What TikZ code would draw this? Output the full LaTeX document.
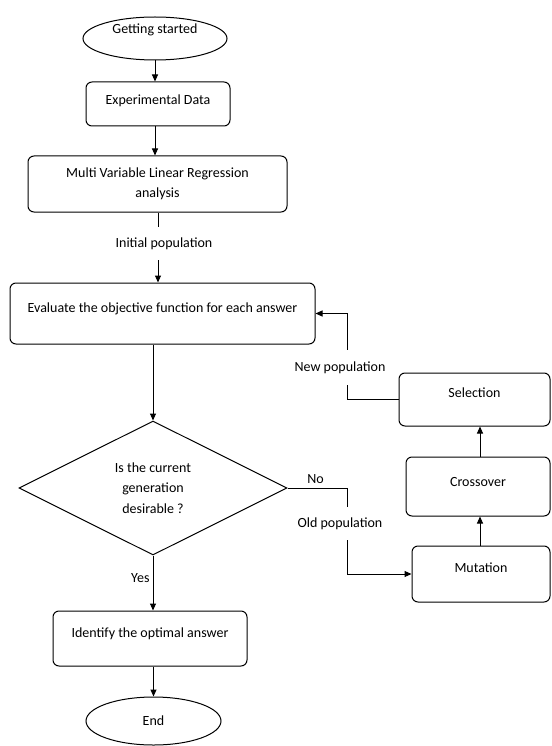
\documentclass[tikz,border=0pt]{standalone}
\usepackage{fontspec}
\setmainfont{Carlito}
\usetikzlibrary{shapes.geometric,arrows.meta,calc}
\begin{document}
\begin{tikzpicture}[x=1pt,y=-1pt,
  every node/.style={font=\fontsize{14}{20.5}\selectfont, inner sep=0pt},
  box/.style={draw, rounded corners=6pt, line width=1pt},
  term/.style={draw, ellipse, line width=1pt},
  up/.style={text height=10pt, text depth=#1},
  conn/.style={line width=1pt},
  arr/.style={conn, -{Triangle[length=7pt,width=6pt]}}]
\useasboundingbox (0,0) rectangle (551,746);

% column helpers
\coordinate (xa) at (158,0);
\coordinate (xb) at (347,0);
\coordinate (xc) at (480,0);

% nodes
\node[term, minimum width=144pt, minimum height=43pt, up=20pt] (start) at (155,38.5) {Getting started};
\node[box, minimum width=144pt, minimum height=44pt, up=9pt] (exp) at (158,104) {Experimental Data};
\node[box, minimum width=259pt, minimum height=56pt, align=center] (mvlr) at (157.5,184) {Multi Variable Linear Regression\\analysis};
\node[minimum height=33pt] (init) at (164,243.5) {Initial population};
\node[box, minimum width=305pt, minimum height=61pt, up=12pt] (eval) at (162.5,313.5) {Evaluate the objective function for each answer};
\node[draw, diamond, aspect=2, line width=1pt, minimum width=268pt, minimum height=134pt, align=center] (dec) at (153,488) {Is the current\\generation\\desirable ?};
\node[box, minimum width=194pt, minimum height=55pt, up=12pt] (ident) at (150,638.5) {Identify the optimal answer};
\node[term, minimum width=135pt, minimum height=48pt] (end) at (153.5,721) {End};

\node[box, minimum width=151pt, minimum height=53pt, up=14pt] (sel) at (474.5,399.5) {Selection};
\node[box, minimum width=144pt, minimum height=59pt, up=10pt] (cross) at (478,486.5) {Crossover};
\node[box, minimum width=138pt, minimum height=56pt, up=13pt] (mut) at (481,574) {Mutation};

\node[minimum height=35pt] (newp) at (340,367.5) {New population};
\node[minimum height=33pt] (old) at (340,523.5) {Old population};

% connectors
\draw[arr] (start.south) -- (start.south |- exp.north);
\draw[arr] (start.south |- exp.south) -- (start.south |- mvlr.north);
\draw[conn] (mvlr.south -| xa) -- (init.north -| xa);
\draw[arr] (init.south -| xa) -- (eval.north -| xa);
\draw[arr] (eval.south -| dec.north) -- (dec.north);
\draw[arr] (dec.south) -- node[left=3pt, pos=0.41] (yes) {Yes} (dec.south |- ident.north);
\draw[arr] (ident.south -| end.north) -- (end.north);

\draw[conn] (dec.east) -- node[above=4pt, pos=0.47] (no) {No} (dec.east -| xb) -- (old.north -| xb);
\draw[arr] (old.south -| xb) -- (mut.west -| xb) -- (mut.west);
\draw[arr] (mut.north -| xc) -- (cross.south -| xc);
\draw[arr] (cross.north -| xc) -- (sel.south -| xc);
\draw[conn] (sel.west) -- (sel.west -| xb) -- (newp.south -| xb);
\draw[arr] (newp.north -| xb) -- (eval.east -| xb) -- (eval.east);
\end{tikzpicture}
\end{document}
